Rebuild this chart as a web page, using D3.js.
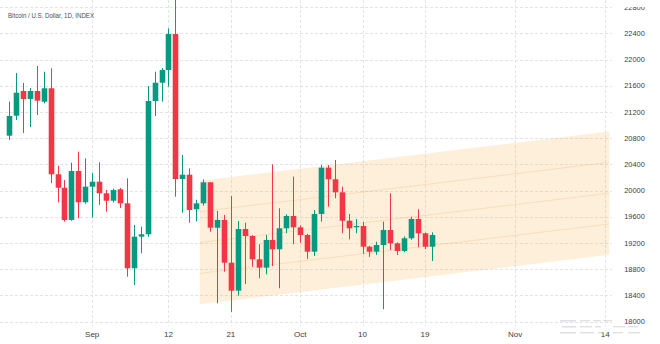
<!DOCTYPE html>
<html>
<head>
<meta charset="utf-8">
<script src="https://cdn.jsdelivr.net/npm/d3@7"></script>
<style>
  html, body { margin: 0; padding: 0; background: #ffffff; }
  svg { display: block; font-family: "Liberation Sans", Arial, sans-serif; }
</style>
</head>
<body>
<svg id="chart" width="660" height="344"></svg>
<script>
// Daily BTC/USD candles
const dates = [
  "2022-08-20","2022-08-21","2022-08-22","2022-08-23","2022-08-24","2022-08-25","2022-08-26","2022-08-27","2022-08-28","2022-08-29",
  "2022-08-30","2022-08-31","2022-09-01","2022-09-02","2022-09-03","2022-09-04","2022-09-05","2022-09-06","2022-09-07","2022-09-08",
  "2022-09-09","2022-09-10","2022-09-11","2022-09-12","2022-09-13","2022-09-14","2022-09-15","2022-09-16","2022-09-17","2022-09-18",
  "2022-09-19","2022-09-20","2022-09-21","2022-09-22","2022-09-23","2022-09-24","2022-09-25","2022-09-26","2022-09-27","2022-09-28",
  "2022-09-29","2022-09-30","2022-10-01","2022-10-02","2022-10-03","2022-10-04","2022-10-05","2022-10-06","2022-10-07","2022-10-08",
  "2022-10-09","2022-10-10","2022-10-11","2022-10-12","2022-10-13","2022-10-14","2022-10-15","2022-10-16","2022-10-17","2022-10-18",
  "2022-10-19","2022-10-20"
];
const opens = [
  20838,21143,21520,21398,21520,21356,21561,20249,20044,19552,
  20299,19822,20060,20136,19959,19846,20020,19806,18815,19297,
  19334,21367,21646,21840,22389,20177,20243,19715,19806,20127,
  19434,19552,18900,18473,19414,19308,18952,18824,19247,19105,
  19425,19613,19440,19323,19068,19643,20350,20173,19974,19541,
  19440,19460,19144,19068,19170,19399,19196,19079,19273,19567,
  19349,19144
];
const highs = [
  21356,21794,21642,21565,21901,21814,21866,20380,20162,20426,
  20594,20493,20269,20432,20009,20030,20040,20188,19475,19450,
  21596,21814,21871,22476,22920,20543,20340,19860,20170,20130,
  19689,19628,19918,19536,19511,19320,19181,19323,20401,19730,
  19640,20212,19470,19340,19704,20391,20391,20467,20060,19643,
  19567,19520,19160,19220,19526,19959,19210,19300,19600,19715,
  19360,19364
];
const lows = [
  20772,21077,20879,20971,21154,21332,20116,19822,19526,19540,
  19578,19800,19587,19781,19678,19820,19735,18687,18560,19044,
  19297,21138,21356,21585,19907,19663,19510,19530,19770,19373,
  18281,18763,18150,18397,18575,18839,18662,18723,18850,18510,
  19350,19181,19205,18957,19002,19526,19755,19883,19349,19257,
  19349,19033,18990,19020,18190,19094,19018,19060,19250,19135,
  19109,18926
];
const closes = [
  21138,21494,21398,21520,21372,21561,20249,20044,19552,20299,
  19822,20060,20136,19959,19846,20009,19806,18815,19297,19334,
  21367,21646,21840,22389,20177,20243,19704,19806,20127,19434,
  19552,18900,18473,19414,19308,18952,18824,19247,19105,19425,
  19613,19440,19323,19068,19643,20350,20173,19974,19541,19425,
  19460,19144,19068,19170,19399,19196,19079,19273,19567,19349,
  19144,19323
];

// Time axis ticks and labels
const timeTicks  = ["2022-09-01","2022-09-12","2022-09-21","2022-10-01","2022-10-10","2022-10-19","2022-11-01","2022-11-14"];
const timeLabels = ["Sep","12","21","Oct","10","19","Nov","14"];

// Price axis ticks
const priceTicks = [18000,18400,18800,19200,19600,20000,20400,20800,21200,21600,22000,22400,22800];

// Regression channel: anchor times, upper and lower bounds
const channelTimes = ["2022-09-16T12:00:00Z","2022-11-14T14:00:00Z"];
const channelUpper = [20150, 20900];
const channelLower = [18265, 19020];

const parse = s => new Date(s.length === 10 ? s + "T00:00:00Z" : s);

const W = 660, H = 344;
const plotRight = 612, plotBottom = 326;

const x = d3.scaleUtc()
  .domain([parse("2022-09-01"), parse("2022-11-14")])
  .range([92.2, 605.2]);
const y = d3.scaleLinear()
  .domain([18000, 22400])
  .range([321.7, 33.3]);

const svg = d3.select("#chart");

svg.append("defs").append("clipPath").attr("id", "plotClip")
  .append("rect").attr("x", 0).attr("y", 0).attr("width", plotRight).attr("height", plotBottom);
svg.select("defs").append("clipPath").attr("id", "axisClip")
  .append("rect").attr("x", plotRight).attr("y", 7).attr("width", W - plotRight).attr("height", H - 7);

const plot = svg.append("g").attr("clip-path", "url(#plotClip)");

// Grid
const gridColor = "#e3e4e8";
plot.append("g").selectAll("line.h").data(priceTicks).join("line")
  .attr("x1", 0).attr("x2", plotRight)
  .attr("y1", d => Math.round(y(d)) + 0.5).attr("y2", d => Math.round(y(d)) + 0.5)
  .attr("stroke", gridColor).attr("stroke-width", 1).attr("stroke-dasharray", "3,2");
plot.append("g").selectAll("line.v").data(timeTicks).join("line")
  .attr("x1", d => Math.round(x(parse(d))) + 0.5).attr("x2", d => Math.round(x(parse(d))) + 0.5)
  .attr("y1", 0).attr("y2", plotBottom)
  .attr("stroke", gridColor).attr("stroke-width", 1).attr("stroke-dasharray", "3,2");

// Channel band
const cx0 = x(parse(channelTimes[0])), cx1 = x(parse(channelTimes[1]));
plot.append("path")
  .attr("d", `M${cx0},${y(channelUpper[0])}L${cx1},${y(channelUpper[1])}L${cx1},${y(channelLower[1])}L${cx0},${y(channelLower[0])}Z`)
  .attr("fill", "rgba(250,170,60,0.19)");

// Inner channel lines at the quarter levels
const fractions = [0.25, 0.5, 0.75];
plot.append("g").selectAll("line").data(fractions).join("line")
  .attr("x1", cx0).attr("x2", cx1)
  .attr("y1", f => y(channelUpper[0] + (channelLower[0] - channelUpper[0]) * f))
  .attr("y2", f => y(channelUpper[1] + (channelLower[1] - channelUpper[1]) * f))
  .attr("stroke", "rgba(235,170,90,0.25)").attr("stroke-width", 1);

// Candles
const up = "#089981", down = "#f23645";
const candles = dates.map((d, i) => ({ t: parse(d), o: opens[i], h: highs[i], l: lows[i], c: closes[i] }));
const bodyW = 5.6;
const cg = plot.append("g").selectAll("g").data(candles).join("g");
cg.append("line")
  .attr("x1", d => Math.round(x(d.t)) + 0.5).attr("x2", d => Math.round(x(d.t)) + 0.5)
  .attr("y1", d => y(d.h)).attr("y2", d => y(d.l))
  .attr("stroke", d => d.c >= d.o ? up : down).attr("stroke-width", 1);
cg.append("rect")
  .attr("x", d => Math.round(x(d.t)) + 0.5 - bodyW / 2)
  .attr("y", d => y(Math.max(d.o, d.c)))
  .attr("width", bodyW)
  .attr("height", d => Math.max(1, Math.abs(y(d.o) - y(d.c))))
  .attr("fill", d => d.c >= d.o ? up : down);

// Price labels
svg.append("g").attr("clip-path", "url(#axisClip)")
  .selectAll("text").data(priceTicks).join("text")
  .attr("x", 634.5).attr("y", d => y(d)).attr("dy", "0.35em")
  .attr("text-anchor", "middle")
  .attr("font-size", 7.4).attr("fill", "#3a3d45")
  .text(d => d);

// Time labels
svg.append("g").selectAll("text").data(timeTicks).join("text")
  .attr("x", d => x(parse(d))).attr("y", 337)
  .attr("text-anchor", "middle")
  .attr("font-size", 8).attr("fill", "#3a3d45")
  .text((d, i) => timeLabels[i]);

// Title
svg.append("text")
  .attr("x", 8).attr("y", 17.5)
  .attr("font-size", 6.5).attr("fill", "#4a4d55")
  .attr("textLength", 86).attr("lengthAdjust", "spacingAndGlyphs")
  .text("Bitcoin / U.S. Dollar, 1D, INDEX");

// Faint logo mark in the lower right corner
const mark = svg.append("g").attr("opacity", 0.55).attr("fill", "#c9cacd");
[[560, 320, 16], [562, 326, 14], [560, 332, 16]].forEach(([mx, my, mw]) =>
  mark.append("rect").attr("x", mx).attr("y", my).attr("width", mw).attr("height", 1.6));
[[580, 320, 10], [593, 320, 8], [603, 320, 9], [580, 326, 12], [595, 326, 6], [613, 326, 12], [628, 326, 10],
 [580, 332, 14], [598, 332, 6], [613, 332, 10], [628, 332, 12]].forEach(([mx, my, mw]) =>
  mark.append("rect").attr("x", mx).attr("y", my).attr("width", mw).attr("height", 1.4));
</script>
</body>
</html>
